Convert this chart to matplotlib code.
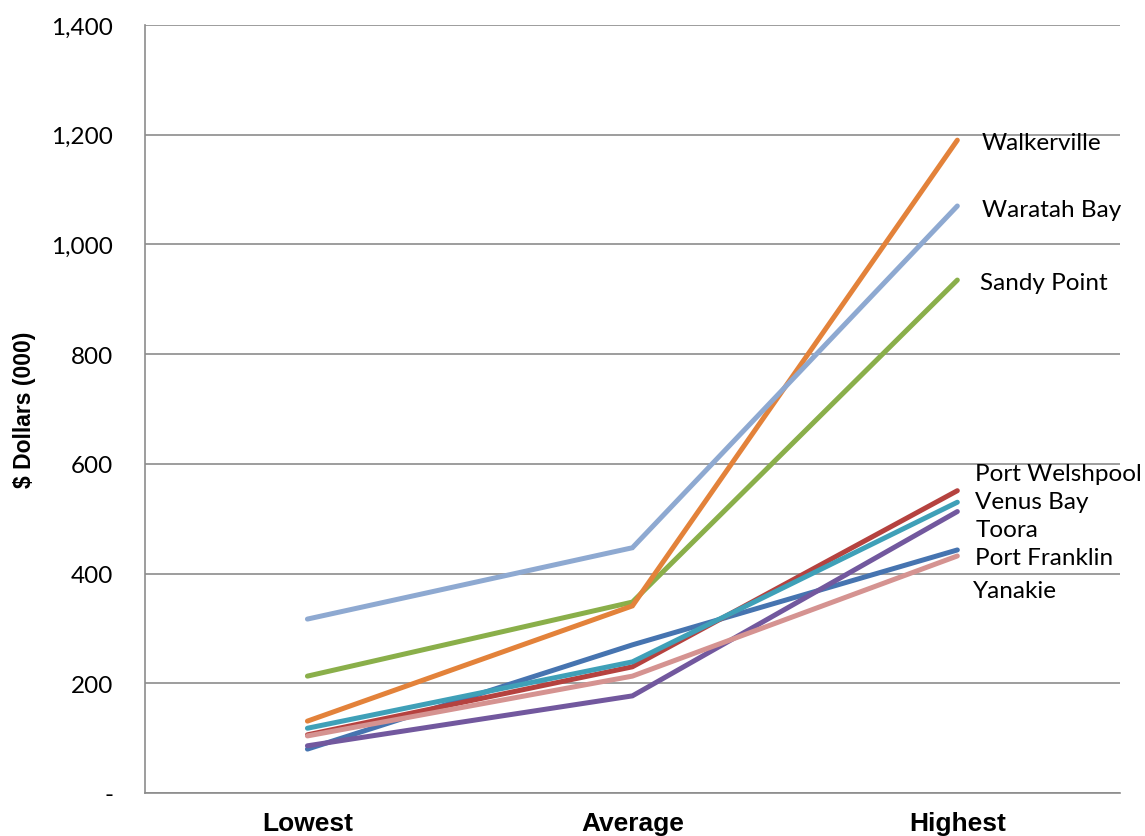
import matplotlib.pyplot as plt
from matplotlib.ticker import FuncFormatter

categories = ["Lowest", "Average", "Highest"]

towns = ["Port Franklin", "Port Welshpool", "Sandy Point", "Toora", "Venus Bay",
         "Walkerville", "Waratah Bay", "Yanakie"]
values = {
    "Port Franklin": [80, 270, 443],
    "Port Welshpool": [106, 230, 551],
    "Sandy Point": [213, 348, 935],
    "Toora": [86, 177, 513],
    "Venus Bay": [118, 239, 530],
    "Walkerville": [131, 341, 1190],
    "Waratah Bay": [317, 447, 1070],
    "Yanakie": [104, 213, 432],
}
colors = {
    "Port Franklin": "#4674B0",
    "Port Welshpool": "#B5423F",
    "Sandy Point": "#8AAF4A",
    "Toora": "#72589E",
    "Venus Bay": "#3FA0B8",
    "Walkerville": "#E3823A",
    "Waratah Bay": "#8EA9D1",
    "Yanakie": "#D59391",
}
# label positions (category units, value units) at the right end
label_pos = {
    "Walkerville": (2.075, 1186),
    "Waratah Bay": (2.075, 1064),
    "Sandy Point": (2.07, 931),
    "Port Welshpool": (2.053, 582),
    "Venus Bay": (2.053, 531),
    "Toora": (2.056, 480),
    "Port Franklin": (2.053, 430),
    "Yanakie": (2.048, 369),
}
label_font = "Lato"

fig = plt.figure(figsize=(11.45, 8.37), dpi=100)
ax = fig.add_axes([0.1266, 0.0514, 0.8514, 0.9176])

x = range(len(categories))
for t in towns:
    ax.plot(x, values[t], color=colors[t], linewidth=3.6, solid_capstyle="round",
            solid_joinstyle="miter", zorder=3)
    lx, ly = label_pos[t]
    ax.text(lx, ly, t, fontsize=17.5, family=label_font, va="center",
            ha="left", color="black")

ax.set_xlim(-0.5, 2.5)
ax.set_ylim(0, 1400)
ax.set_yticks(range(0, 1401, 200))
ax.yaxis.set_major_formatter(FuncFormatter(lambda v, p: "-" if v == 0 else f"{int(v):,}"))
ax.set_xticks(list(x))
ax.set_xticklabels(categories, fontsize=19, fontweight="bold", family="Liberation Sans")
for lab in ax.get_yticklabels():
    lab.set_family(label_font)
    lab.set_fontsize(17.5)
ax.tick_params(axis="y", length=0, pad=23)
ax.tick_params(axis="x", length=0, pad=13)
ax.grid(axis="y", color="#8c8c8c", linewidth=1.2, zorder=0)
ax.set_axisbelow(True)
for s in ["top", "right"]:
    ax.spines[s].set_visible(False)
for s in ["left", "bottom"]:
    ax.spines[s].set_color("#8c8c8c")
    ax.spines[s].set_linewidth(1.2)

ax.set_ylabel("$ Dollars (000)", fontsize=16.5, fontweight="bold", family="Liberation Sans",
              labelpad=11)

fig.savefig("out.png", dpi=100)
